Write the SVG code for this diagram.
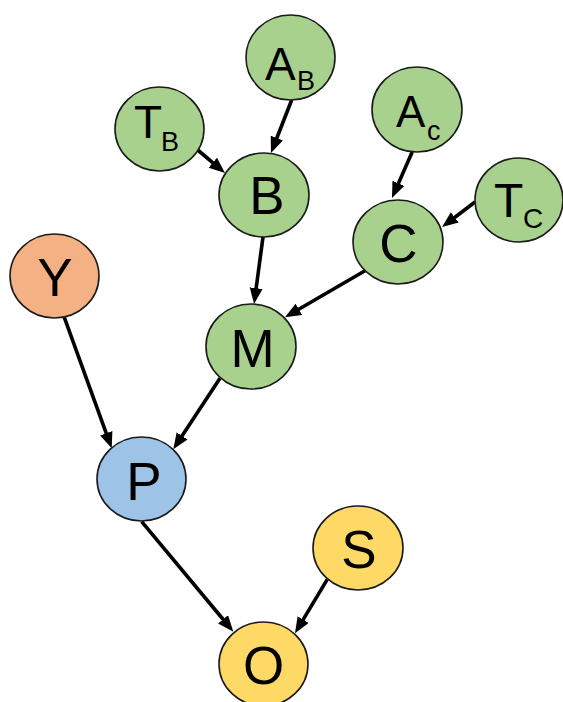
<svg xmlns="http://www.w3.org/2000/svg" width="563" height="702" viewBox="0 0 563 702">
<style>
.n{stroke:#1a1a1a;stroke-width:1.6}
.g{fill:#a9d18e}.o{fill:#f4b183}.b{fill:#9dc3e6}.y{fill:#ffd966}
text{font-family:"Liberation Sans",Arial,sans-serif;fill:#000}
.big{font-size:53px;text-anchor:middle}
.e{stroke:#000;stroke-width:3.6;fill:none;marker-end:url(#ah)}
</style>
<defs>
<marker id="ah" markerUnits="userSpaceOnUse" markerWidth="17" markerHeight="14" refX="8" refY="6.5" orient="auto">
<path d="M0,0 L16,6.5 L0,13 z" fill="#000"/>
</marker>
</defs>
<rect width="563" height="702" fill="#fff"/>
<g id="edges">
<line class="e" x1="291.7" y1="100" x2="273.9" y2="145.5"/>
<line class="e" x1="197.7" y1="150" x2="218.9" y2="167.8"/>
<line class="e" x1="263" y1="237" x2="255.1" y2="296.1"/>
<line class="e" x1="412.3" y1="151.7" x2="395.2" y2="190.7"/>
<line class="e" x1="475" y1="202" x2="448.4" y2="222.2"/>
<line class="e" x1="365" y1="270.7" x2="291.9" y2="313.3"/>
<line class="e" x1="64.3" y1="317.3" x2="109" y2="440.8"/>
<line class="e" x1="220" y1="378.3" x2="177.7" y2="442.6"/>
<line class="e" x1="141.7" y1="521.7" x2="228.2" y2="625.5"/>
<line class="e" x1="327.3" y1="579.3" x2="299.1" y2="626.4"/>
</g>
<g id="AB"><ellipse class="n g" cx="290.5" cy="57.5" rx="44.5" ry="42.5"/><text x="265" y="80" font-size="46">A</text><text x="297" y="90" font-size="27">B</text></g>
<g id="TB"><ellipse class="n g" cx="159.5" cy="129" rx="44.5" ry="42"/><text x="134" y="138" font-size="46">T</text><text x="161" y="151" font-size="27">B</text></g>
<g id="B"><ellipse class="n g" cx="264" cy="195" rx="45" ry="42"/><text class="big" x="267" y="214">B</text></g>
<g id="Ac"><ellipse class="n g" cx="417" cy="109.5" rx="45" ry="42.5"/><text x="396" y="127" font-size="44">A</text><text x="427" y="140" font-size="27">c</text></g>
<g id="TC"><ellipse class="n g" cx="519" cy="200" rx="44" ry="42"/><text x="494" y="217" font-size="48">T</text><text x="523" y="228" font-size="28">C</text></g>
<g id="C"><ellipse class="n g" cx="398" cy="242" rx="45" ry="42"/><text class="big" x="398.5" y="262">C</text></g>
<g id="Y"><ellipse class="n o" cx="54.5" cy="276" rx="44.5" ry="42"/><text class="big" x="55" y="296">Y</text></g>
<g id="M"><ellipse class="n g" cx="251" cy="346.5" rx="45" ry="42.5"/><text class="big" x="252.5" y="367">M</text></g>
<g id="P"><ellipse class="n b" cx="141.5" cy="479" rx="44.5" ry="42"/><text class="big" x="144" y="499.5">P</text></g>
<g id="S"><ellipse class="n y" cx="358" cy="548" rx="45" ry="42"/><text class="big" x="359" y="568">S</text></g>
<g id="O"><ellipse class="n y" cx="263.5" cy="664" rx="44.5" ry="42"/><text class="big" x="263.5" y="684">O</text></g>
</svg>
